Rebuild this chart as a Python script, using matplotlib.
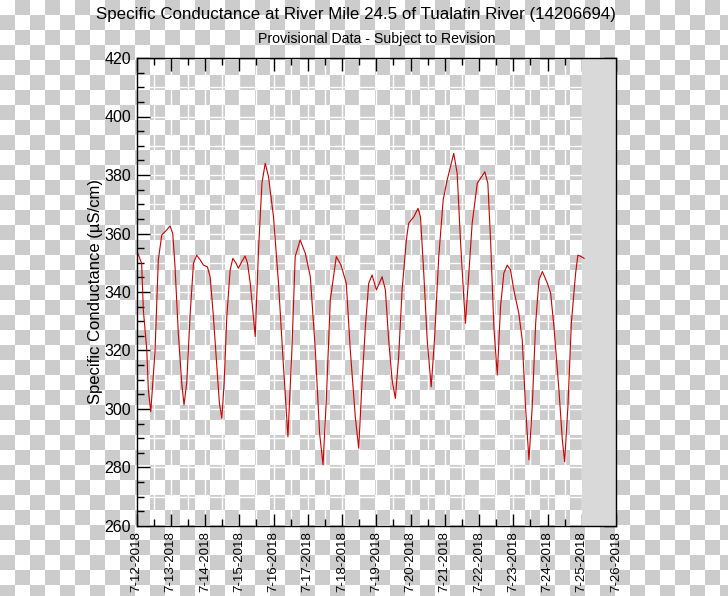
import datetime as dt

import matplotlib
matplotlib.use("Agg")
import matplotlib.pyplot as plt
import matplotlib.dates as mdates
import matplotlib.ticker as mticker
import numpy as np

plt.rcParams["font.family"] = ["Liberation Sans", "DejaVu Sans"]

# hours since 7-12-2018 00:00 and specific conductance (uS/cm)
hours = [0.0, 3.6, 4.8, 7.2, 8.3, 10.0, 13.0, 15.3, 17.7, 21.2, 23.5, 25.4, 27.0,
         29.3, 31.7, 33.3, 35.2, 37.5, 39.9, 42.2, 44.6, 46.9, 49.7, 51.6, 53.9,
         56.3, 58.1, 59.8, 61.4, 63.3, 65.6, 67.5, 69.8, 71.4, 73.8, 76.1, 77.8,
         79.7, 83.2, 85.5, 87.9, 90.2, 92.5, 96.0, 99.5, 103.0, 106.1, 108.9,
         111.2, 114.7, 118.3, 121.8, 125.3, 128.3, 130.7, 133.0, 135.8, 140.0,
         143.3, 147.0, 149.8, 153.3, 155.7, 158.0, 160.4, 162.7, 165.1, 168.1,
         172.1, 174.4, 176.7, 179.1, 181.4, 183.7, 186.1, 189.1, 190.7, 194.3,
         197.3, 199.0, 201.3, 203.7, 206.5, 208.8, 211.8, 214.9, 217.7, 222.3,
         224.7, 227.0, 229.3, 230.5, 232.9, 235.2, 238.8, 244.1, 246.2, 248.1,
         250.4, 252.8, 255.1, 257.4, 259.8, 262.1, 264.4, 267.9, 270.3, 272.6,
         275.0, 277.3, 279.7, 282.0, 284.4, 287.9, 290.2, 292.5, 296.0, 298.4,
         300.0, 302.3, 304.7, 307.7, 309.3, 311.7, 313.6]
conductance = [354.4, 349.8, 333.8, 320.2, 306.5, 299.1, 320.0, 351.0, 359.5,
               361.2, 362.6, 360.0, 348.6, 325.9, 308.8, 301.4, 309.0, 331.6,
               349.8, 352.6, 351.0, 349.2, 348.6, 345.2, 331.6, 314.5, 302.0,
               296.8, 308.8, 331.6, 347.5, 351.5, 349.8, 348.1, 350.4, 352.3,
               349.8, 343.0, 324.8, 354.4, 377.2, 384.0, 379.4, 365.7, 343.0,
               314.5, 290.5, 320.2, 352.1, 357.8, 353.2, 345.2, 320.2, 291.7,
               280.9, 303.0, 337.3, 352.1, 349.2, 343.0, 320.2, 297.4, 286.6,
               308.8, 328.2, 343.0, 345.8, 340.7, 345.2, 340.7, 323.6, 309.9,
               303.6, 317.9, 340.7, 357.8, 363.5, 365.7, 368.6, 365.7, 346.4,
               323.6, 307.6, 323.6, 352.1, 371.5, 378.3, 387.4, 380.6, 357.8,
               338.4, 329.3, 346.4, 363.5, 377.2, 381.1, 377.2, 357.8, 328.2,
               311.6, 335.0, 346.4, 349.2, 347.5, 340.7, 332.7, 323.6, 300.8,
               282.6, 300.8, 329.3, 344.1, 347.0, 343.0, 339.6, 328.2, 306.5,
               289.4, 282.0, 300.8, 329.3, 346.4, 352.6, 352.1, 351.5]

start = dt.datetime(2018, 7, 12)
end = dt.datetime(2018, 7, 26)
no_data_start = dt.datetime(2018, 7, 25)
times = [start + dt.timedelta(hours=h) for h in hours]

title = "Specific Conductance at River Mile 24.5 of Tualatin River (14206694)"
subtitle = "Provisional Data - Subject to Revision"
ylabel = "Specific Conductance (\u00b5S/cm)"

W, H = 728, 596
fig = plt.figure(figsize=(W / 100, H / 100), dpi=100)
fig.patch.set_alpha(0)

# transparency checkerboard behind everything
rows, cols = np.indices((H, W))
checker = np.where(((rows // 15) + (cols // 15)) % 2 == 1, 0.8, 1.0)
fig.figimage(np.dstack([checker] * 3), 0, 0, zorder=-10)

ax = fig.add_axes([136.5 / W, 1 - 526 / H, (616 - 136.5) / W, (526 - 58) / H])
ax.set_facecolor("none")

ax.set_xlim(start, end)
ax.set_ylim(260, 420)

# white grid at every half day and every 10 units
for d in mdates.drange(start, end, dt.timedelta(hours=12)):
    ax.axvline(d, color="white", lw=1.0, zorder=1)
for v in range(270, 420, 10):
    ax.axhline(v, color="white", lw=1.0, zorder=1)

ax.axvspan(no_data_start, end, color="#d9d9d9", lw=0, zorder=2)

ax.plot(times, conductance, color="#cc0000", lw=0.8, zorder=3)

ax.xaxis.set_major_locator(mdates.DayLocator())
ax.xaxis.set_minor_locator(mdates.HourLocator(byhour=[12]))
ax.xaxis.set_major_formatter(
    mticker.FuncFormatter(lambda x, pos: "{d.month}-{d.day}-{d.year}".format(d=mdates.num2date(x)))
)
ax.yaxis.set_major_locator(mticker.MultipleLocator(20))
ax.yaxis.set_minor_locator(mticker.MultipleLocator(5))

ax.tick_params(which="both", direction="in", top=True, right=True, color="black")
ax.tick_params(which="major", length=9, width=1)
ax.tick_params(which="minor", length=5, width=1)
ax.tick_params(axis="y", labelsize=11.5, pad=4)
ax.tick_params(axis="x", labelsize=9.5, labelrotation=90, pad=4)
for spine in ax.spines.values():
    spine.set_linewidth(1)
    spine.set_zorder(5)

ax.set_ylabel(ylabel, fontsize=12, labelpad=1)

fig.text(356 / W, 1 - 14 / H, title, ha="center", va="center", fontsize=12.2)
fig.text(377 / W, 1 - 39 / H, subtitle, ha="center", va="center", fontsize=10.2)

fig.savefig("out.png", dpi=100)
